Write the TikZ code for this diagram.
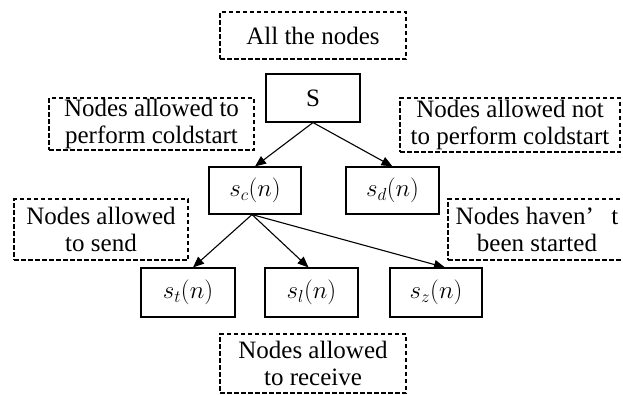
\documentclass[tikz,border=0pt]{standalone}
\usepackage{fontspec}
\IfFontExistsTF{Liberation Serif}{\setmainfont{Liberation Serif}}{\setmainfont{DejaVu Serif}}
\usetikzlibrary{arrows.meta}
\begin{document}
\begin{tikzpicture}[x=1pt,y=-1pt,
  solidbox/.style={draw,line width=1.1pt,inner sep=0pt,align=center,font=\rmfamily\fontsize{25}{27}\selectfont},
  dashbox/.style={draw,line width=1.1pt,dash pattern=on 4.5pt off 2.5pt,inner sep=0pt,align=center,font=\rmfamily\fontsize{25}{27}\selectfont},
  arr/.style={-{Triangle[length=11pt,width=9pt]},line width=1.1pt}]
\useasboundingbox (0,0) rectangle (623,394);
\begin{scope}
\clip (0,0) rectangle (623,394);
\node[dashbox,minimum width=186pt,minimum height=47pt] (all) at (313,35.5) {All the nodes};
\node[solidbox,minimum width=94pt,minimum height=48pt] (S) at (313,98) {S};
\node[dashbox,minimum width=205pt,minimum height=52pt] (lc) at (151.5,124) {Nodes allowed to\\perform coldstart};
\node[dashbox,minimum width=220pt,minimum height=54pt] (rc) at (510,125) {Nodes allowed not\\to perform coldstart};
\node[solidbox,minimum width=92pt,minimum height=47pt] (sc) at (255,190.5) {$s_c(n)$};
\node[solidbox,minimum width=93pt,minimum height=47pt] (sd) at (392.5,190.5) {$s_d(n)$};
\node[dashbox,minimum width=174pt,minimum height=61pt] (ls) at (101,229.5) {Nodes allowed\\to send};
\node[dashbox,minimum width=178pt,minimum height=61pt] (rh) at (537,229.5) {Nodes haven’\hspace{0.7em}t\\been started};
\node[solidbox,minimum width=94pt,minimum height=49pt] (st) at (188,292.5) {$s_t(n)$};
\node[solidbox,minimum width=93pt,minimum height=49pt] (sl) at (311.5,292.5) {$s_l(n)$};
\node[solidbox,minimum width=92pt,minimum height=49pt] (sz) at (436,292.5) {$s_z(n)$};
\node[dashbox,minimum width=186pt,minimum height=59pt] (rv) at (313,363.5) {Nodes allowed\\to receive};
\end{scope}
\draw[arr] (S.south) -- (sc.north);
\draw[arr] (S.south) -- (sd.north);
\draw[arr] ([xshift=-3pt]sc.south) -- ([xshift=5pt]st.north);
\draw[arr] ([xshift=-3pt]sc.south) -- ([xshift=-3pt]sl.north);
\draw[arr] ([xshift=-3pt]sc.south) -- ([xshift=9pt]sz.north);
\end{tikzpicture}
\end{document}
